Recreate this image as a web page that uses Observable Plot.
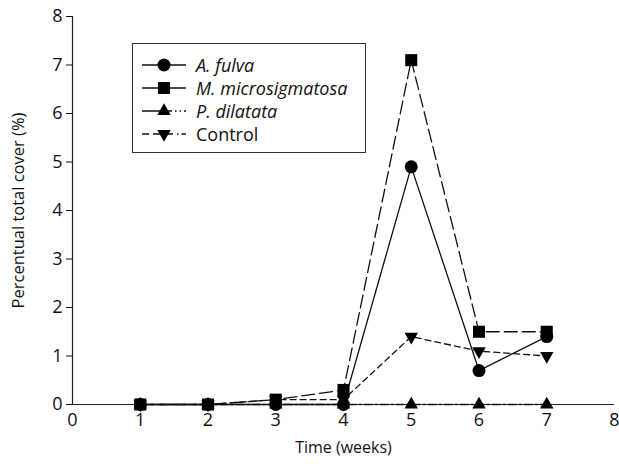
<!DOCTYPE html>
<html>
<head>
<meta charset="utf-8">
<script src="https://cdn.jsdelivr.net/npm/d3@7"></script>
<script src="https://cdn.jsdelivr.net/npm/@observablehq/plot@0.6"></script>
<style>
  body { margin: 0; background: #fff; }
  #wrap { position: relative; width: 619px; height: 466px; font-family: "Open Sans", "DejaVu Sans", sans-serif; }
  #legend { position: absolute; left: 132px; top: 43px; width: 234px; height: 110px; border: 1.3px solid #333; background: #fff; box-sizing: border-box; }
  .row { position: absolute; left: 8px; height: 22px; display: flex; align-items: center; font-size: 18px; color: #111; white-space: nowrap; }
  .row svg { margin-right: 9px; }
</style>
</head>
<body>
<div id="wrap"></div>
<script>
const weeks = [1, 2, 3, 4, 5, 6, 7];
const seriesNames = ["A. fulva", "M. microsigmatosa", "P. dilatata", "Control"];
const aFulva = [0, 0, 0, 0, 4.9, 0.7, 1.4];
const mMicrosigmatosa = [0, 0, 0.1, 0.3, 7.1, 1.5, 1.5];
const pDilatata = [0, 0, 0, 0, 0, 0, 0];
const control = [0, 0, 0.1, 0.1, 1.4, 1.1, 1.0];
const xTicks = [0, 1, 2, 3, 4, 5, 6, 7, 8];
const yTicks = [0, 1, 2, 3, 4, 5, 6, 7, 8];

const triangleDown = {
  draw(context, size) {
    const s3 = Math.sqrt(3);
    const y = Math.sqrt(size / (s3 * 3));
    context.moveTo(0, y * 2);
    context.lineTo(-s3 * y, -y);
    context.lineTo(s3 * y, -y);
    context.closePath();
  }
};

const styles = [
  {name: seriesNames[0], values: aFulva, symbol: "circle", r: 6.5, dash: null, legendDash: null, italic: true},
  {name: seriesNames[1], values: mMicrosigmatosa, symbol: "square", r: 6.8, dash: "13,5", legendDash: null, italic: true},
  {name: seriesNames[2], values: pDilatata, symbol: "triangle", r: 5, dash: "8,3,2,3", legendDash: "30,3,1.5,3,1.5,3", italic: true},
  {name: seriesNames[3], values: control, symbol: triangleDown, r: 5, dash: "6,4", legendDash: "7,4,7,4,9,4,1.5,3", italic: false}
];

const marks = [
  Plot.ruleY([0], {stroke: "#222", strokeWidth: 1.2}),
  Plot.ruleX([0], {stroke: "#222", strokeWidth: 1.2}),
  Plot.axisY({ticks: yTicks, tickSize: 6, tickPadding: 4, fontSize: 18, label: null}),
  Plot.axisY({ticks: [], tickSize: 0, fontSize: 16.5, label: "Percentual total cover (%)", labelAnchor: "center", labelOffset: 60, labelArrow: false}),
  Plot.axisX({ticks: xTicks, tickSize: 0, tickPadding: 9, fontSize: 18, label: null}),
  Plot.axisX({ticks: [], tickSize: 0, fontSize: 16, label: "Time (weeks)", labelAnchor: "center", labelOffset: 48, labelArrow: false})
];
for (const s of styles) {
  const data = weeks.map((w, i) => ({week: w, value: s.values[i]}));
  marks.push(Plot.line(data, {x: "week", y: "value", stroke: "#111", strokeWidth: 1.3, strokeDasharray: s.dash}));
}
for (const s of styles.slice().reverse()) {
  const data = weeks.map((w, i) => ({week: w, value: s.values[i]}));
  marks.push(Plot.dot(data, {x: "week", y: "value", symbol: () => s.symbol, r: s.r, fill: "#000", stroke: "none"}));
}

const chart = Plot.plot({
  width: 619,
  height: 466,
  marginLeft: 72,
  marginRight: 5,
  marginTop: 16,
  marginBottom: 62,
  style: {fontFamily: "'Open Sans', 'DejaVu Sans', sans-serif", fontSize: "16px", color: "#111", background: "#fff"},
  x: {domain: [0, 8]},
  y: {domain: [0, 8]},
  symbol: {type: "identity"},
  marks
});
document.getElementById("wrap").appendChild(chart);

// Legend
const legend = d3.select("#wrap").append("div").attr("id", "legend");
styles.forEach((s, i) => {
  const row = legend.append("div").attr("class", "row").style("top", (10 + i * 23) + "px");
  const svg = row.append("svg").attr("width", 46).attr("height", 22);
  svg.append("line").attr("x1", 1).attr("x2", 45).attr("y1", 11).attr("y2", 11)
    .attr("stroke", "#111").attr("stroke-width", 1.3)
    .attr("stroke-dasharray", s.legendDash);
  const sym = typeof s.symbol === "string" ? ({circle: d3.symbolCircle, square: d3.symbolSquare, triangle: d3.symbolTriangle})[s.symbol] : s.symbol;
  svg.append("path").attr("transform", "translate(23,11)")
    .attr("d", d3.symbol(sym, s.r * s.r * Math.PI)()).attr("fill", "#000");
  row.append("span").text(s.name).style("font-style", s.italic ? "italic" : "normal");
});
</script>
</body>
</html>
